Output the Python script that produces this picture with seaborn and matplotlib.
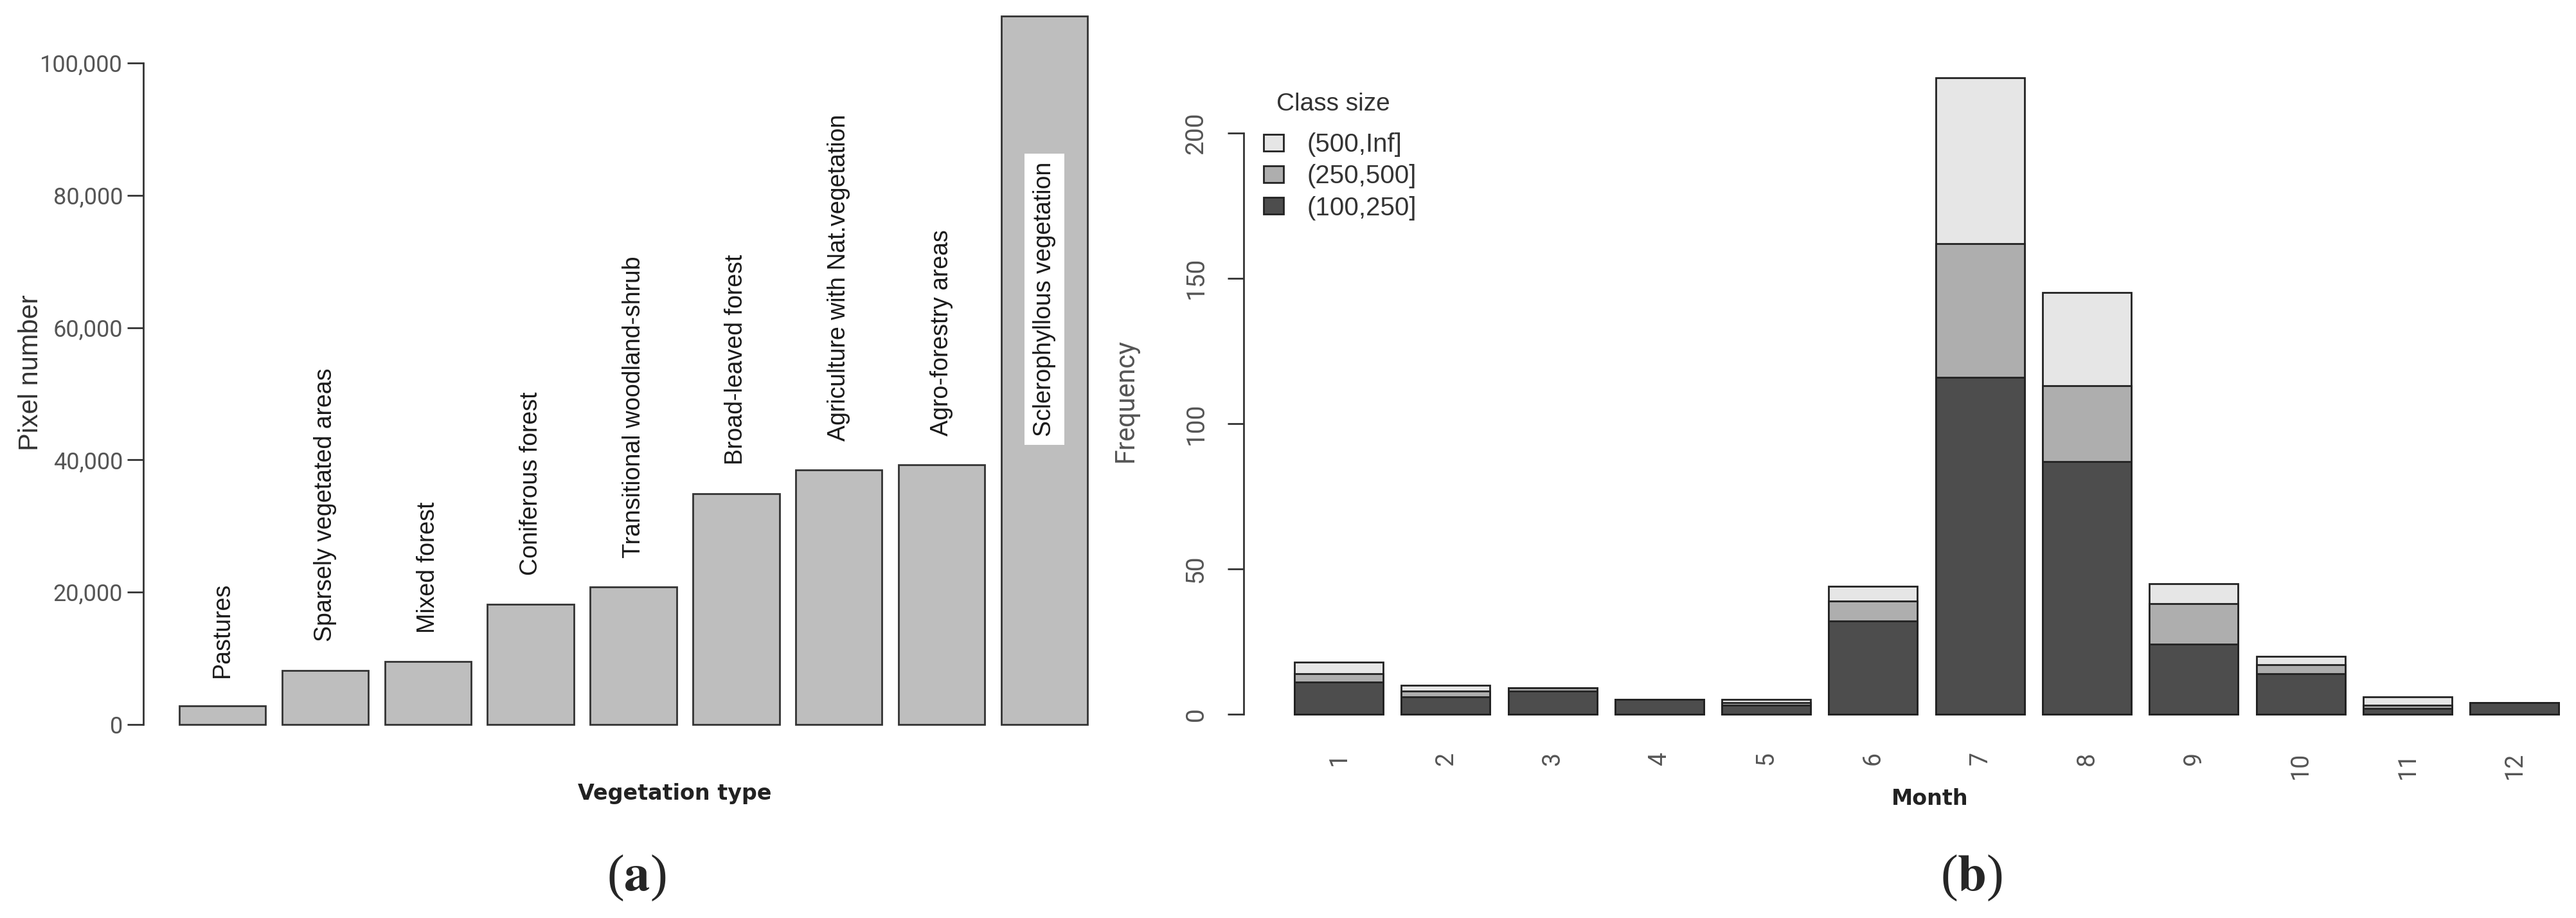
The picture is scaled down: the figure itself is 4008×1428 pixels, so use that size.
import pandas as pd
import seaborn as sns
import matplotlib.pyplot as plt
from matplotlib.ticker import FuncFormatter

# (a) pixel number per vegetation type
veg_types = ['Pastures', 'Sparsely vegetated areas', 'Mixed forest',
             'Coniferous forest', 'Transitional woodland-shrub',
             'Broad-leaved forest', 'Agriculture with Nat.vegetation',
             'Agro-forestry areas', 'Sclerophyllous vegetation']
pixel_counts = [2800, 8200, 9500, 18200, 20800, 34900, 38500, 39300, 107100]

# (b) monthly frequency by class size
months = ['1', '2', '3', '4', '5', '6', '7', '8', '9', '10', '11', '12']
cls_100_250 = [11, 6, 8, 5, 3, 32, 116, 87, 24, 14, 2, 4]
cls_250_500 = [3, 2, 1, 0, 1, 7, 46, 26, 14, 3, 1, 0]
cls_500_inf = [4, 2, 0, 0, 1, 5, 57, 32, 7, 3, 3, 0]
class_labels = ['(500,Inf]', '(250,500]', '(100,250]']
class_colors = ['#e6e6e6', '#aeaeae', '#4d4d4d']

sns.set_theme(style='white')
plt.rcParams['font.family'] = ['DejaVu Sans']

W, H = 4008, 1428
fig = plt.figure(figsize=(W / 100, H / 100), dpi=100)

# ---------------- panel (a) ----------------
ax1 = fig.add_axes([223 / W, 1 - 1140 / H, (1748 - 223) / W, 1125 / H])
sns.barplot(x=veg_types, y=pixel_counts, color='#bebebe', saturation=1,
            edgecolor='#333333', linewidth=2, width=0.84, ax=ax1)
ax1.set_xlim(-0.769, 8.769)
ax1.set_ylim(-1263, 108050)
sns.despine(ax=ax1, bottom=True)
ax1.spines['left'].set_bounds(0, 100000)
ax1.spines['left'].set_linewidth(2)
ax1.spines['left'].set_color('#333333')
ax1.set_yticks([0, 20000, 40000, 60000, 80000, 100000])
ax1.yaxis.set_major_formatter(FuncFormatter(lambda v, p: f'{v:,.0f}'))
ax1.tick_params(axis='y', direction='out', left=True, length=18, width=2,
                color='#333333', pad=5, labelsize=26, labelcolor='#555555',
                labelfontfamily='Roboto')
ax1.tick_params(axis='x', bottom=False, labelbottom=False)

for i, (name, v) in enumerate(zip(veg_types, pixel_counts)):
    if v > 100000:
        ax1.text(i, v * 0.6, name, rotation=90, ha='center', va='center',
                 family='Liberation Sans', fontsize=27, color='#1a1a1a',
                 bbox=dict(boxstyle='square,pad=0.35', facecolor='white',
                           edgecolor='none'))
    else:
        ax1.annotate(name, (i, v), xytext=(0, 32), textcoords='offset points',
                     rotation=90, ha='center', va='bottom',
                     family='Liberation Sans', fontsize=27, color='#1a1a1a')

ax1.set_xlabel('Vegetation type', fontsize=24, fontweight='bold', color='#222222')
ax1.xaxis.set_label_coords(1050 / W, 1 - 1218 / H, transform=fig.transFigure)
ax1.set_ylabel('Pixel number', family='Liberation Sans', fontsize=30, color='#333333')
ax1.yaxis.set_label_coords(68 / W, 1 - 580 / H, transform=fig.transFigure)

# ---------------- panel (b) ----------------
df_b = pd.DataFrame({'month': months, 'low': cls_100_250,
                     'mid': cls_250_500, 'high': cls_500_inf})
df_b['mid_top'] = df_b['low'] + df_b['mid']
df_b['total'] = df_b['mid_top'] + df_b['high']

ax2 = fig.add_axes([1935 / W, 1 - 1125 / H, 1 - 1935 / W, 1100 / H])
for col, colr, lab in zip(['total', 'mid_top', 'low'], class_colors, class_labels):
    sns.barplot(data=df_b, x='month', y=col, order=months, color=colr,
                saturation=1, edgecolor='#222222', linewidth=2, width=0.83,
                errorbar=None, label=lab, ax=ax2)
ax2.set_xlim(-0.89, 11.576)
ax2.set_ylim(-3.1, 240.2)
sns.despine(ax=ax2, bottom=True)
ax2.spines['left'].set_bounds(0, 200)
ax2.spines['left'].set_linewidth(2)
ax2.spines['left'].set_color('#333333')
ax2.set_yticks([0, 50, 100, 150, 200])
ax2.tick_params(axis='y', direction='out', left=True, length=18, width=2,
                color='#333333', pad=22, labelsize=28, labelcolor='#555555',
                labelrotation=90, labelfontfamily='Roboto')
for t in ax2.get_yticklabels():
    t.set_va('center')
ax2.tick_params(axis='x', bottom=False, length=0, pad=32, labelsize=27,
                labelcolor='#555555', labelrotation=90, labelfontfamily='Roboto')

ax2.set_xlabel('Month', fontsize=24, fontweight='bold', color='#222222')
ax2.xaxis.set_label_coords(3003 / W, 1 - 1226 / H, transform=fig.transFigure)
ax2.set_ylabel('Frequency', family='Roboto', fontsize=30, color='#555555')
ax2.yaxis.set_label_coords(1772 / W, 1 - 623 / H, transform=fig.transFigure)

ax2.legend(handles=ax2.containers[:3], labels=class_labels,
           loc='upper left', bbox_to_anchor=(1966 / W, 1 - 206 / H),
           bbox_transform=fig.transFigure, frameon=False, borderpad=0,
           borderaxespad=0, handlelength=0.77, handleheight=0.62,
           handletextpad=0.9, labelspacing=0.28, labelcolor='#333333',
           prop={'family': 'Liberation Sans', 'size': 29})
fig.text(2074 / W, 1 - 162 / H, 'Class size', ha='center', va='center',
         family='Liberation Sans', fontsize=28, color='#333333')

# captions
fig.text(990 / W, 1 - 1366 / H, r'($\mathbf{a}$)', ha='center', va='center',
         family='Liberation Serif', math_fontfamily='stix', fontsize=58)
fig.text(3067 / W, 1 - 1366 / H, r'($\mathbf{b}$)', ha='center', va='center',
         family='Liberation Serif', math_fontfamily='stix', fontsize=58)

fig.savefig('out.png', dpi=100)
